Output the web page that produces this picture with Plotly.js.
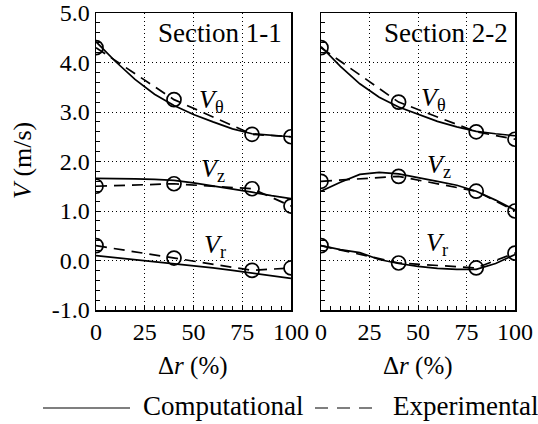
<!DOCTYPE html>
<html>
<head>
<meta charset="utf-8">
<script src="https://cdn.plot.ly/plotly-3.0.1.min.js"></script>
<style>
html,body{margin:0;padding:0;background:#fff;}
#chart{width:538px;height:424px;}
</style>
</head>
<body>
<div id="chart"></div>
<script>
// ---- Data ----
var compX = [0, 10, 20, 30, 40, 50, 60, 70, 80, 90, 100];
var expX = [0, 40, 80, 100];

// Section 1-1
var s1CompVtheta = [4.42, 4.02, 3.66, 3.36, 3.13, 2.95, 2.80, 2.66, 2.56, 2.53, 2.50];
var s1CompVz     = [1.66, 1.66, 1.65, 1.64, 1.62, 1.57, 1.51, 1.45, 1.38, 1.31, 1.25];
var s1CompVr     = [0.10, 0.06, 0.02, -0.02, -0.06, -0.10, -0.15, -0.20, -0.25, -0.30, -0.36];
var s1ExpVtheta  = [4.30, 3.25, 2.55, 2.50];
var s1ExpVz      = [1.50, 1.55, 1.45, 1.10];
var s1ExpVr      = [0.30, 0.05, -0.20, -0.15];

// Section 2-2
var s2CompVtheta = [4.32, 3.92, 3.57, 3.30, 3.10, 2.95, 2.81, 2.70, 2.61, 2.56, 2.52];
var s2CompVz     = [1.40, 1.58, 1.74, 1.78, 1.75, 1.68, 1.60, 1.52, 1.40, 1.22, 1.02];
var s2CompVr     = [0.30, 0.22, 0.16, 0.02, -0.06, -0.12, -0.16, -0.18, -0.18, -0.06, 0.12];
var s2ExpVtheta  = [4.30, 3.20, 2.60, 2.45];
var s2ExpVz      = [1.60, 1.70, 1.40, 1.00];
var s2ExpVr      = [0.30, -0.05, -0.15, 0.15];

var xTickVals = [0, 25, 50, 75, 100];
var xTickText = ['0', '25', '50', '75', '100'];
var yTickVals = [-1, 0, 1, 2, 3, 4, 5];
var yTickText = ['-1.0', '0.0', '1.0', '2.0', '3.0', '4.0', '5.0'];

// ---- Styles ----
var FONT = 'Times New Roman';
var compLine = {color: '#000', width: 1.7};
var expLine = {color: '#000', width: 1.7, dash: '11px,7px'};
var expMarker = {symbol: 'circle-open', size: 14, color: '#000', line: {width: 1.7, color: '#000'}};

function comp(y, xa, ya) {
  return {x: compX, y: y, xaxis: xa, yaxis: ya, mode: 'lines', line: compLine, showlegend: false, hoverinfo: 'skip'};
}
function expt(y, xa, ya) {
  return {x: expX, y: y, xaxis: xa, yaxis: ya, mode: 'lines+markers', line: expLine, marker: expMarker, showlegend: false, hoverinfo: 'skip'};
}

var traces = [
  comp(s1CompVtheta, 'x', 'y'), comp(s1CompVz, 'x', 'y'), comp(s1CompVr, 'x', 'y'),
  expt(s1ExpVtheta, 'x', 'y'), expt(s1ExpVz, 'x', 'y'), expt(s1ExpVr, 'x', 'y'),
  comp(s2CompVtheta, 'x2', 'y2'), comp(s2CompVz, 'x2', 'y2'), comp(s2CompVr, 'x2', 'y2'),
  expt(s2ExpVtheta, 'x2', 'y2'), expt(s2ExpVz, 'x2', 'y2'), expt(s2ExpVr, 'x2', 'y2')
];

function xAxis(domain, anchor) {
  return {
    domain: domain, anchor: anchor, range: [0, 100],
    tickmode: 'array', tickvals: xTickVals, ticktext: xTickText,
    ticks: 'inside', ticklen: 5, tickcolor: '#000',
    minor: {dtick: 5, ticks: 'inside', ticklen: 4, tickcolor: '#000', showgrid: false},
    showgrid: true, gridcolor: '#000', gridwidth: 1, griddash: '1px,3px',
    zeroline: false, showline: true, linecolor: '#000', linewidth: 1.5, mirror: true,
    tickfont: {family: FONT, size: 24, color: '#000'}, automargin: false, fixedrange: true
  };
}
function yAxis(domain, anchor, showLabels) {
  return {
    domain: domain, anchor: anchor, range: [-1, 5],
    tickmode: 'array', tickvals: yTickVals, ticktext: yTickText, showticklabels: showLabels,
    ticks: 'inside', ticklen: 5, tickcolor: '#000',
    minor: {dtick: 0.2, ticks: 'inside', ticklen: 4, tickcolor: '#000', showgrid: false},
    showgrid: true, gridcolor: '#000', gridwidth: 1, griddash: '1px,3px',
    zeroline: false, showline: true, linecolor: '#000', linewidth: 1.5, mirror: true,
    tickfont: {family: FONT, size: 24, color: '#000'}, automargin: false, fixedrange: true
  };
}

var yDom = [1 - 310/424, 1 - 13/424];

function lab(text, x, y, xref, yref) {
  return {text: text, x: x, y: y, xref: xref, yref: yref, showarrow: false,
    font: {family: FONT, size: 26, color: '#000'}, xanchor: 'center', yanchor: 'middle'};
}
function ptxt(text, x, y, anchor, size) {
  return {text: text, x: x/538, y: 1 - y/424, xref: 'paper', yref: 'paper', xanchor: anchor, yanchor: 'middle',
    showarrow: false, font: {family: FONT, size: size, color: '#000'}};
}

var yTitle = ptxt('<i>V</i> (m/s)', 22, 161, 'center', 26);
yTitle.textangle = -90;

var annotations = [
  lab('<i>V</i><sub>θ</sub>', 59, 3.22, 'x', 'y'),
  lab('<i>V</i><sub>z</sub>', 60, 1.82, 'x', 'y'),
  lab('<i>V</i><sub>r</sub>', 61, 0.30, 'x', 'y'),
  lab('<i>V</i><sub>θ</sub>', 58, 3.26, 'x2', 'y2'),
  lab('<i>V</i><sub>z</sub>', 61, 1.90, 'x2', 'y2'),
  lab('<i>V</i><sub>r</sub>', 60, 0.34, 'x2', 'y2'),
  ptxt('Section 1-1', 284, 33, 'right', 27),
  ptxt('Section 2-2', 510, 33, 'right', 27),
  ptxt('Δ<i>r</i> (%)', 193, 366, 'center', 25),
  ptxt('Δ<i>r</i> (%)', 418, 366, 'center', 25),
  yTitle,
  ptxt('Computational', 141, 406, 'left', 27),
  ptxt('Experimental', 391, 406, 'left', 27)
];

var shapes = [
  {type: 'line', xref: 'paper', yref: 'paper', x0: 43/538, x1: 130/538, y0: 1 - 408/424, y1: 1 - 408/424, line: {color: '#000', width: 1.2}},
  {type: 'line', xref: 'paper', yref: 'paper', x0: 315/538, x1: 372/538, y0: 1 - 408/424, y1: 1 - 408/424, line: {color: '#000', width: 1.2, dash: '13px,9px'}}
];

var layout = {
  width: 538, height: 424,
  margin: {l: 0, r: 0, t: 0, b: 0},
  paper_bgcolor: '#fff', plot_bgcolor: '#fff',
  showlegend: false,
  xaxis: xAxis([96/538, 291/538], 'y'),
  yaxis: yAxis(yDom, 'x', true),
  xaxis2: xAxis([321/538, 515/538], 'y2'),
  yaxis2: yAxis(yDom, 'x2', false),
  annotations: annotations,
  shapes: shapes,
  font: {family: FONT, color: '#000'}
};

Plotly.newPlot('chart', traces, layout, {displayModeBar: false, staticPlot: true});
</script>
</body>
</html>
